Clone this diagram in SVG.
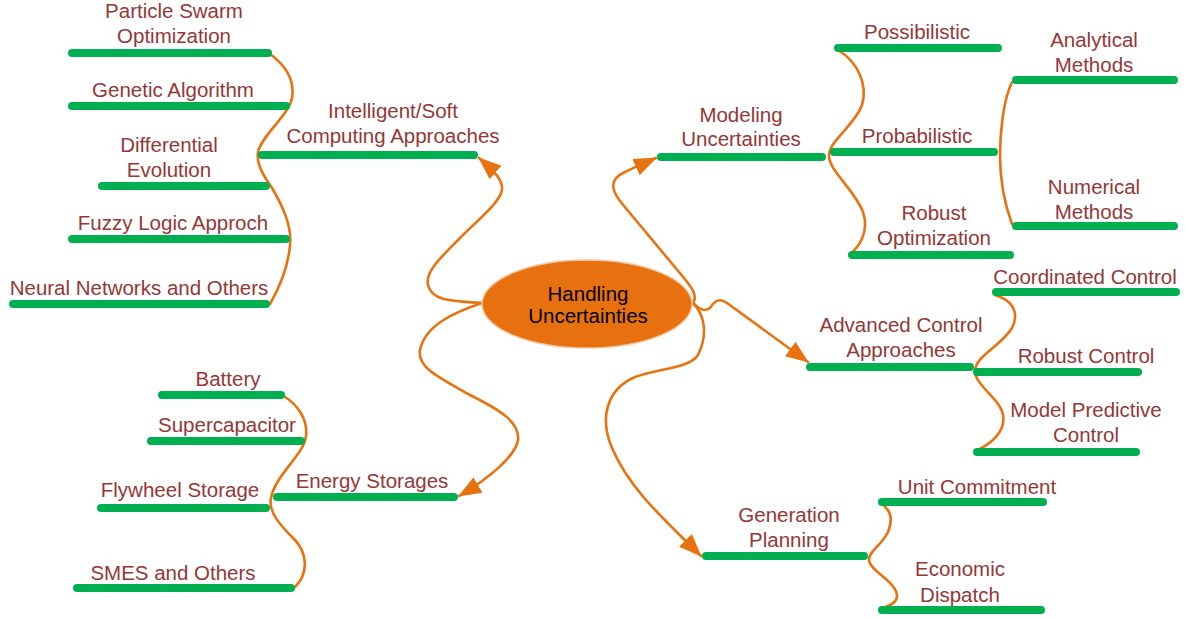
<svg xmlns="http://www.w3.org/2000/svg" width="1186" height="621" viewBox="0 0 1186 621">
<style>
  .bar{stroke:#00B050;stroke-width:8;stroke-linecap:round;fill:none}
  .lbl{font-family:"Liberation Sans",Arial,sans-serif;font-size:20.5px;fill:#953735;text-anchor:middle}
  .ctr{font-family:"Liberation Sans",Arial,sans-serif;font-size:20.5px;fill:#000;text-anchor:middle}
  .con{stroke:#E8720F;stroke-width:2.6;fill:none;stroke-linecap:round}
</style>
<defs>
  <marker id="arr" markerUnits="userSpaceOnUse" markerWidth="24" markerHeight="20" viewBox="0 0 24 20" refX="22" refY="10" orient="auto">
    <path d="M0,1 L23,10 L0,19 z" fill="#E8720F"/>
  </marker>
</defs>
<rect width="1186" height="621" fill="#fff"/>

<g id="connectors">
  <path class="con" marker-end="url(#arr)" d="M482,303 C455,301 432,302 428,285 C425,272 440,258 460,238 C480,218 500,202 502,190 C503,180 495,172 479,158"/>
  <path class="con" marker-end="url(#arr)" d="M482,303 C455,312 425,325 420,350 C417,368 440,378 470,395 C500,410 520,422 518,440 C516,455 490,478 459,496"/>
  <path class="con" marker-end="url(#arr)" d="M693,303 C698,296 692,288 684,278 L624,206 C612,192 607,180 625,172 C635,167 645,163 656,158"/>
  <path class="con" marker-end="url(#arr)" d="M693,303 C700,310 705,312 710,308 C715,300 720,298 727,303 L808,362"/>
  <path class="con" marker-end="url(#arr)" d="M693,303 C705,315 708,335 698,355 C690,368 660,368 635,377 C605,390 600,420 612,448 C630,490 665,520 701,556"/>
  <path class="con" d="M270,54 C285,65 295,80 292,98 C289,115 262,135 258,152 C256,165 265,178 272,188 C282,205 292,225 290,245 C288,270 278,290 270,304"/>
  <path class="con" d="M285,397 C298,405 308,420 306,436 C304,455 275,475 271,498 C268,512 280,525 295,540 C306,552 310,572 295,587"/>
  <path class="con" d="M838,50 C858,62 868,85 862,105 C855,125 830,140 829,155 C828,170 855,190 863,212 C870,232 858,248 850,254"/>
  <path class="con" d="M1012,82 C1003,100 1000,135 1000,155 C1000,180 1005,205 1012,224"/>
  <path class="con" d="M995,295 C1012,300 1020,312 1012,328 C1002,345 977,355 975,370 C974,385 1000,398 1003,415 C1006,432 990,445 975,451"/>
  <path class="con" d="M880,503 C892,510 893,520 888,532 C882,545 868,552 869,560 C870,572 898,582 897,597 C896,604 887,607 880,609"/>
</g>

<g id="center">
  <ellipse cx="587" cy="304" rx="105" ry="44" fill="#E8710F" stroke="#F6C7A2" stroke-width="1.5"/>
  <text class="ctr" x="588" y="301">Handling</text>
  <text class="ctr" x="588" y="323">Uncertainties</text>
</g>

<g id="intelligent">
  <line class="bar" x1="262" y1="155" x2="474" y2="155"/>
  <text class="lbl" x="393" y="118">Intelligent/Soft</text>
  <text class="lbl" x="393" y="143">Computing Approaches</text>
</g>
<g id="pso">
  <line class="bar" x1="72" y1="53" x2="268" y2="53"/>
  <text class="lbl" x="174" y="18">Particle Swarm</text>
  <text class="lbl" x="174" y="43">Optimization</text>
</g>
<g id="ga">
  <line class="bar" x1="72" y1="106" x2="286" y2="106"/>
  <text class="lbl" x="173" y="97">Genetic Algorithm</text>
</g>
<g id="de">
  <line class="bar" x1="102" y1="186" x2="266" y2="186"/>
  <text class="lbl" x="169" y="152">Differential</text>
  <text class="lbl" x="169" y="177">Evolution</text>
</g>
<g id="fuzzy">
  <line class="bar" x1="72" y1="239" x2="286" y2="239"/>
  <text class="lbl" x="173" y="230">Fuzzy Logic Approch</text>
</g>
<g id="neural">
  <line class="bar" x1="13" y1="304" x2="266" y2="304"/>
  <text class="lbl" x="139" y="295">Neural Networks and Others</text>
</g>

<g id="energy">
  <line class="bar" x1="277" y1="497" x2="454" y2="497"/>
  <text class="lbl" x="372" y="488">Energy Storages</text>
</g>
<g id="battery">
  <line class="bar" x1="162" y1="395" x2="281" y2="395"/>
  <text class="lbl" x="228" y="386">Battery</text>
</g>
<g id="supercap">
  <line class="bar" x1="151" y1="441" x2="301" y2="441"/>
  <text class="lbl" x="227" y="432">Supercapacitor</text>
</g>
<g id="flywheel">
  <line class="bar" x1="101" y1="508" x2="266" y2="508"/>
  <text class="lbl" x="180" y="497">Flywheel Storage</text>
</g>
<g id="smes">
  <line class="bar" x1="77" y1="588" x2="291" y2="588"/>
  <text class="lbl" x="173" y="580">SMES and Others</text>
</g>

<g id="modeling">
  <line class="bar" x1="661" y1="157" x2="822" y2="157"/>
  <text class="lbl" x="741" y="122">Modeling</text>
  <text class="lbl" x="741" y="146">Uncertainties</text>
</g>
<g id="possibilistic">
  <line class="bar" x1="838" y1="48" x2="998" y2="48"/>
  <text class="lbl" x="917" y="39">Possibilistic</text>
</g>
<g id="probabilistic">
  <line class="bar" x1="834" y1="152" x2="994" y2="152"/>
  <text class="lbl" x="917" y="143">Probabilistic</text>
</g>
<g id="robustopt">
  <line class="bar" x1="852" y1="255" x2="1010" y2="255"/>
  <text class="lbl" x="934" y="220">Robust</text>
  <text class="lbl" x="934" y="245">Optimization</text>
</g>
<g id="analytical">
  <line class="bar" x1="1016" y1="80" x2="1174" y2="80"/>
  <text class="lbl" x="1094" y="47">Analytical</text>
  <text class="lbl" x="1094" y="72">Methods</text>
</g>
<g id="numerical">
  <line class="bar" x1="1016" y1="226" x2="1174" y2="226"/>
  <text class="lbl" x="1094" y="194">Numerical</text>
  <text class="lbl" x="1094" y="219">Methods</text>
</g>

<g id="advanced">
  <line class="bar" x1="810" y1="367" x2="970" y2="367"/>
  <text class="lbl" x="901" y="332">Advanced Control</text>
  <text class="lbl" x="901" y="357">Approaches</text>
</g>
<g id="coordinated">
  <line class="bar" x1="996" y1="292" x2="1176" y2="292"/>
  <text class="lbl" x="1085" y="284">Coordinated Control</text>
</g>
<g id="robustctrl">
  <line class="bar" x1="977" y1="372" x2="1138" y2="372"/>
  <text class="lbl" x="1086" y="363">Robust Control</text>
</g>
<g id="mpc">
  <line class="bar" x1="977" y1="452" x2="1136" y2="452"/>
  <text class="lbl" x="1086" y="417">Model Predictive</text>
  <text class="lbl" x="1086" y="442">Control</text>
</g>

<g id="generation">
  <line class="bar" x1="706" y1="556" x2="864" y2="556"/>
  <text class="lbl" x="789" y="522">Generation</text>
  <text class="lbl" x="789" y="547">Planning</text>
</g>
<g id="unitcommit">
  <line class="bar" x1="882" y1="502" x2="1043" y2="502"/>
  <text class="lbl" x="977" y="494">Unit Commitment</text>
</g>
<g id="dispatch">
  <line class="bar" x1="882" y1="610" x2="1041" y2="610"/>
  <text class="lbl" x="960" y="576">Economic</text>
  <text class="lbl" x="960" y="602">Dispatch</text>
</g>
</svg>
